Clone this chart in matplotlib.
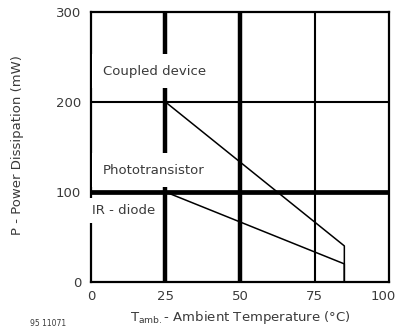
import matplotlib
matplotlib.use("Agg")
import matplotlib.pyplot as plt
import matplotlib.transforms as mtransforms

plt.rcParams['font.family'] = ['DejaVu Sans']
plt.rcParams['mathtext.fontset'] = 'dejavusans'

# data
x_ticks = [0, 25, 50, 75, 100]
y_ticks = [0, 100, 200, 300]
coupled_t = [0, 25, 85, 85]
coupled_p = [200, 200, 40, 0]
ir_t = [0, 25, 85, 85]
ir_p = [100, 100, 20, 0]

thick_x = [25, 50]
thin_x = [75]
thick_y = [100]
thin_y = [200]

labels = ["Coupled device", "Phototransistor", "IR - diode"]
label_xy = [(4, 234), (4, 124), (0.5, 79)]
label_pad = [0.8, 0.8, 0.45]

txt = '#3a3a3a'
fs = 9.5

fig = plt.figure(figsize=(3.97, 3.34), dpi=100)
ax = fig.add_axes([0.229, 0.156, 0.751, 0.808])

for xv in thick_x:
    ax.axvline(xv, color='black', lw=3.2, zorder=1)
for xv in thin_x:
    ax.axvline(xv, color='black', lw=1.5, zorder=1)
for yv in thick_y:
    ax.axhline(yv, color='black', lw=3.4, zorder=1)
for yv in thin_y:
    ax.axhline(yv, color='black', lw=1.5, zorder=1)

ax.plot(coupled_t, coupled_p, color='black', lw=1.1, zorder=2)
ax.plot(ir_t, ir_p, color='black', lw=1.1, zorder=2)

for s, (lx, ly), p in zip(labels, label_xy, label_pad):
    ax.text(lx, ly, s, fontsize=fs, color=txt, va='center', ha='left', zorder=3,
            bbox=dict(boxstyle=f'square,pad={p}', fc='white', ec='none'))

ax.set_xlim(0, 100)
ax.set_ylim(0, 300)
ax.set_xticks(x_ticks)
ax.set_yticks(y_ticks)
ax.tick_params(axis='x', length=0, labelsize=fs, colors=txt, pad=6)
ax.tick_params(axis='y', length=0, labelsize=fs, colors=txt, pad=7)
for sp in ax.spines.values():
    sp.set_linewidth(1.6)

# nudge the last x label so it stays inside the figure
last = ax.get_xticklabels()[-1]
last.set_transform(last.get_transform() +
                   mtransforms.ScaledTranslation(-6 / 100, 0, fig.dpi_scale_trans))

fig.text(0.045, 0.566, "P - Power Dissipation (mW)", rotation=90, fontsize=fs,
         color=txt, ha='center', va='center')
fig.text(0.605, 0.048, r"$\mathrm{T_{amb.}}$- Ambient Temperature (°C)", fontsize=fs,
         color=txt, ha='center', va='center')
fig.text(0.075, 0.032, "95 11071", fontsize=5.5, color=txt, ha='left', va='center')

fig.savefig("out.png", dpi=100)
